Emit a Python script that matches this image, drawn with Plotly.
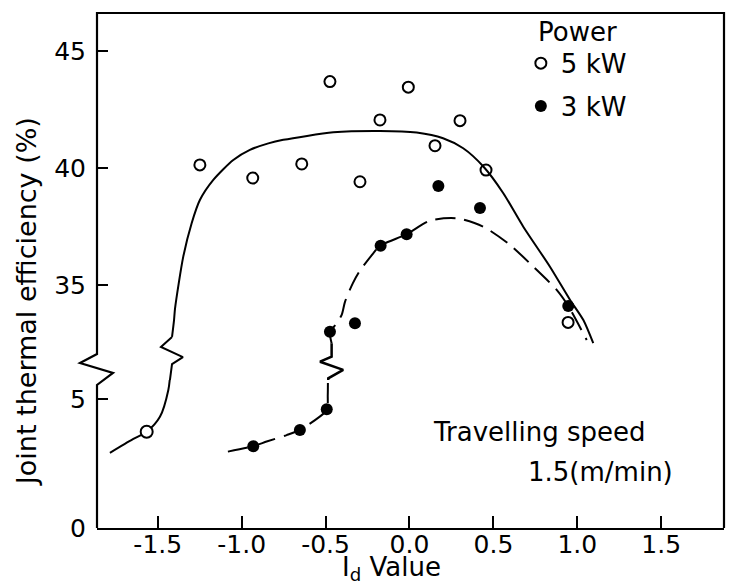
import plotly.graph_objects as go

# ---------------- data ----------------
# 5 kW measured points (open circles)
p5_x_low = [-1.566]
p5_y_low = [3.73]
p5_x_up = [-1.249, -0.934, -0.642, -0.474, -0.295, -0.176, -0.007, 0.152, 0.301, 0.456, 0.945]
p5_y_up = [40.13, 39.57, 40.17, 43.69, 39.41, 42.05, 43.45, 40.95, 42.02, 39.91, 33.40]

# 3 kW measured points (filled circles)
p3_x_low = [-0.931, -0.653, -0.493]
p3_y_low = [3.17, 3.80, 4.60]
p3_x_up = [-0.474, -0.325, -0.172, -0.017, 0.172, 0.420, 0.946]
p3_y_up = [33.00, 33.36, 36.68, 37.17, 39.23, 38.29, 34.10]

# 5 kW fitted curve (solid)
c5_x_low = [-1.785, -1.648, -1.566, -1.487, -1.437, -1.425]
c5_y_low = [2.91, 3.44, 3.73, 4.31, 5.35, 6.00]
c5_x_up = [-1.415, -1.403, -1.397, -1.348, -1.298, -1.249, -1.169, -1.050, -0.951,
           -0.841, -0.752, -0.454, -0.176, 0.043, 0.200, 0.320, 0.440, 0.559,
           0.678, 0.837, 0.957, 1.036, 1.095]
c5_y_up = [32.78, 33.50, 34.00, 36.21, 37.64, 38.63, 39.49, 40.34, 40.77,
           41.05, 41.20, 41.52, 41.58, 41.51, 41.27, 40.84, 40.06, 38.92,
           37.49, 35.78, 34.36, 33.50, 32.51]
c5_brk_x = [-1.415, -1.481, -1.350, -1.415, -1.430]
c5_brk_y = [32.78, 32.35, 31.92, 31.62, 30.80]

# 3 kW fitted curve (dashed)
c3_x_low = [-1.082, -0.931, -0.851, -0.732, -0.653, -0.493, -0.487, -0.486]
c3_y_low = [2.96, 3.17, 3.35, 3.60, 3.80, 4.57, 5.16, 5.90]
c3_x_up = [-0.464, -0.474, -0.440, -0.404, -0.384, -0.338, -0.299, -0.216, -0.176,
           -0.017, 0.122, 0.281, 0.440, 0.599, 0.738, 0.877, 0.946, 1.056]
c3_y_up = [32.51, 33.00, 33.30, 33.72, 34.29, 35.07, 35.57, 36.35, 36.67,
           37.17, 37.75, 37.85, 37.49, 36.71, 35.78, 34.79, 34.10, 32.65]
c3_brk_x = [-0.484, -0.484, -0.395, -0.533, -0.464, -0.464]
c3_brk_y = [30.70, 31.01, 31.37, 31.72, 31.94, 32.51]

x_ticks = [-1.5, -1.0, -0.5, 0.0, 0.5, 1.0, 1.5]
x_ticktext = ["-1.5", "-1.0", "-0.5", "0.0", "0.5", "1.0", "1.5"]
y_low_ticks = [0, 5]
y_up_ticks = [35, 40, 45]

FONT = "DejaVu Sans"
BLACK = "black"

fig = go.Figure()

# curves
fig.add_trace(go.Scatter(x=c5_x_up, y=c5_y_up, xaxis="x", yaxis="y2", mode="lines",
                         line=dict(color=BLACK, width=2, shape="spline", smoothing=0.7),
                         showlegend=False, hoverinfo="skip"))
fig.add_trace(go.Scatter(x=c5_brk_x, y=c5_brk_y, xaxis="x", yaxis="y2", mode="lines",
                         line=dict(color=BLACK, width=2), showlegend=False, hoverinfo="skip"))
fig.add_trace(go.Scatter(x=c5_x_low, y=c5_y_low, xaxis="x", yaxis="y", mode="lines",
                         line=dict(color=BLACK, width=2, shape="spline", smoothing=0.8),
                         showlegend=False, hoverinfo="skip"))
fig.add_trace(go.Scatter(x=c3_x_up, y=c3_y_up, xaxis="x", yaxis="y2", mode="lines",
                         line=dict(color=BLACK, width=2, shape="spline", smoothing=0.7,
                                   dash="20px,9px"),
                         showlegend=False, hoverinfo="skip"))
fig.add_trace(go.Scatter(x=c3_brk_x, y=c3_brk_y, xaxis="x", yaxis="y2", mode="lines",
                         line=dict(color=BLACK, width=2.5), showlegend=False, hoverinfo="skip"))
fig.add_trace(go.Scatter(x=c3_x_low, y=c3_y_low, xaxis="x", yaxis="y", mode="lines",
                         line=dict(color=BLACK, width=2, shape="spline", smoothing=0.6,
                                   dash="20px,9px"),
                         showlegend=False, hoverinfo="skip"))

# points
open_marker = dict(symbol="circle-open", size=11, color=BLACK, line=dict(width=2, color=BLACK))
fill_marker = dict(symbol="circle", size=12, color=BLACK)
fig.add_trace(go.Scatter(x=p5_x_up, y=p5_y_up, xaxis="x", yaxis="y2", mode="markers",
                         marker=open_marker, name="5 kW", legendgroup="a"))
fig.add_trace(go.Scatter(x=p5_x_low, y=p5_y_low, xaxis="x", yaxis="y", mode="markers",
                         marker=dict(symbol="circle", size=12, color="white",
                                     line=dict(width=2, color=BLACK)),
                         showlegend=False, legendgroup="a"))
fig.add_trace(go.Scatter(x=p3_x_up, y=p3_y_up, xaxis="x", yaxis="y2", mode="markers",
                         marker=fill_marker, name="3 kW", legendgroup="b"))
fig.add_trace(go.Scatter(x=p3_x_low, y=p3_y_low, xaxis="x", yaxis="y", mode="markers",
                         marker=fill_marker, showlegend=False, legendgroup="b"))

BRK = 0.2874
axis_common = dict(showgrid=False, zeroline=False, ticks="inside", tickwidth=2,
                   tickcolor=BLACK, automargin=False,
                   tickfont=dict(family=FONT, size=25, color=BLACK))

TXT = 26

fig.update_layout(
    width=731, height=587,
    margin=dict(l=97, r=7, t=13, b=59, autoexpand=False),
    paper_bgcolor="white", plot_bgcolor="white",
    font=dict(family=FONT, color=BLACK),
    xaxis=dict(range=[-1.862, 1.874], anchor="y", domain=[0, 1], showline=True,
               linewidth=2, linecolor=BLACK, ticklen=12, tickvals=x_ticks,
               ticktext=x_ticktext, ticklabelstandoff=-7,
               **axis_common),
    yaxis=dict(domain=[0, BRK], range=[0, 5.736], anchor="x", tickvals=y_low_ticks,
               ticklen=11, showline=False, ticklabelstandoff=10, **axis_common),
    yaxis2=dict(domain=[BRK, 1], range=[30.94, 46.62], anchor="x", tickvals=y_up_ticks,
                ticklen=11, showline=False, ticklabelstandoff=10, **axis_common),
    showlegend=True,
    legend=dict(x=0.676, xanchor="left", y=0.948, yanchor="top",
                font=dict(family=FONT, size=TXT, color=BLACK),
                bgcolor="rgba(0,0,0,0)", traceorder="grouped", tracegroupgap=6,
                itemwidth=30),
    shapes=[
        dict(type="path", xref="paper", yref="paper",
             path="M 0,0 L 0,0.2777 L 0.0255,0.3010 L -0.0271,0.3204 L 0,0.3379 "
                  "L 0,1 L 1,1 L 1,0",
             line=dict(color=BLACK, width=2.2)),
    ],
    annotations=[
        dict(text="I<sub>d</sub> Value", xref="paper", yref="paper", x=0.469, y=-0.1146,
             xanchor="center", yanchor="bottom", showarrow=False,
             font=dict(family=FONT, size=26, color=BLACK)),
        dict(text="Power", xref="paper", yref="paper", x=0.700, y=0.963,
             xanchor="left", yanchor="middle", showarrow=False,
             font=dict(family=FONT, size=TXT, color=BLACK)),
        dict(text="Travelling speed", xref="paper", yref="paper", x=0.532, y=0.186,
             xanchor="left", yanchor="middle", showarrow=False,
             font=dict(family=FONT, size=TXT, color=BLACK)),
        dict(text="1.5(m/min)", xref="paper", yref="paper", x=0.922, y=0.109,
             xanchor="right", yanchor="middle", showarrow=False,
             font=dict(family=FONT, size=TXT, color=BLACK)),
        dict(text="Joint thermal efficiency (%)", xref="paper", yref="paper",
             x=-0.112, y=0.44, textangle=-90, xanchor="center", yanchor="middle",
             showarrow=False, font=dict(family=FONT, size=27, color=BLACK)),
    ],
)

fig.write_html("out.html")
